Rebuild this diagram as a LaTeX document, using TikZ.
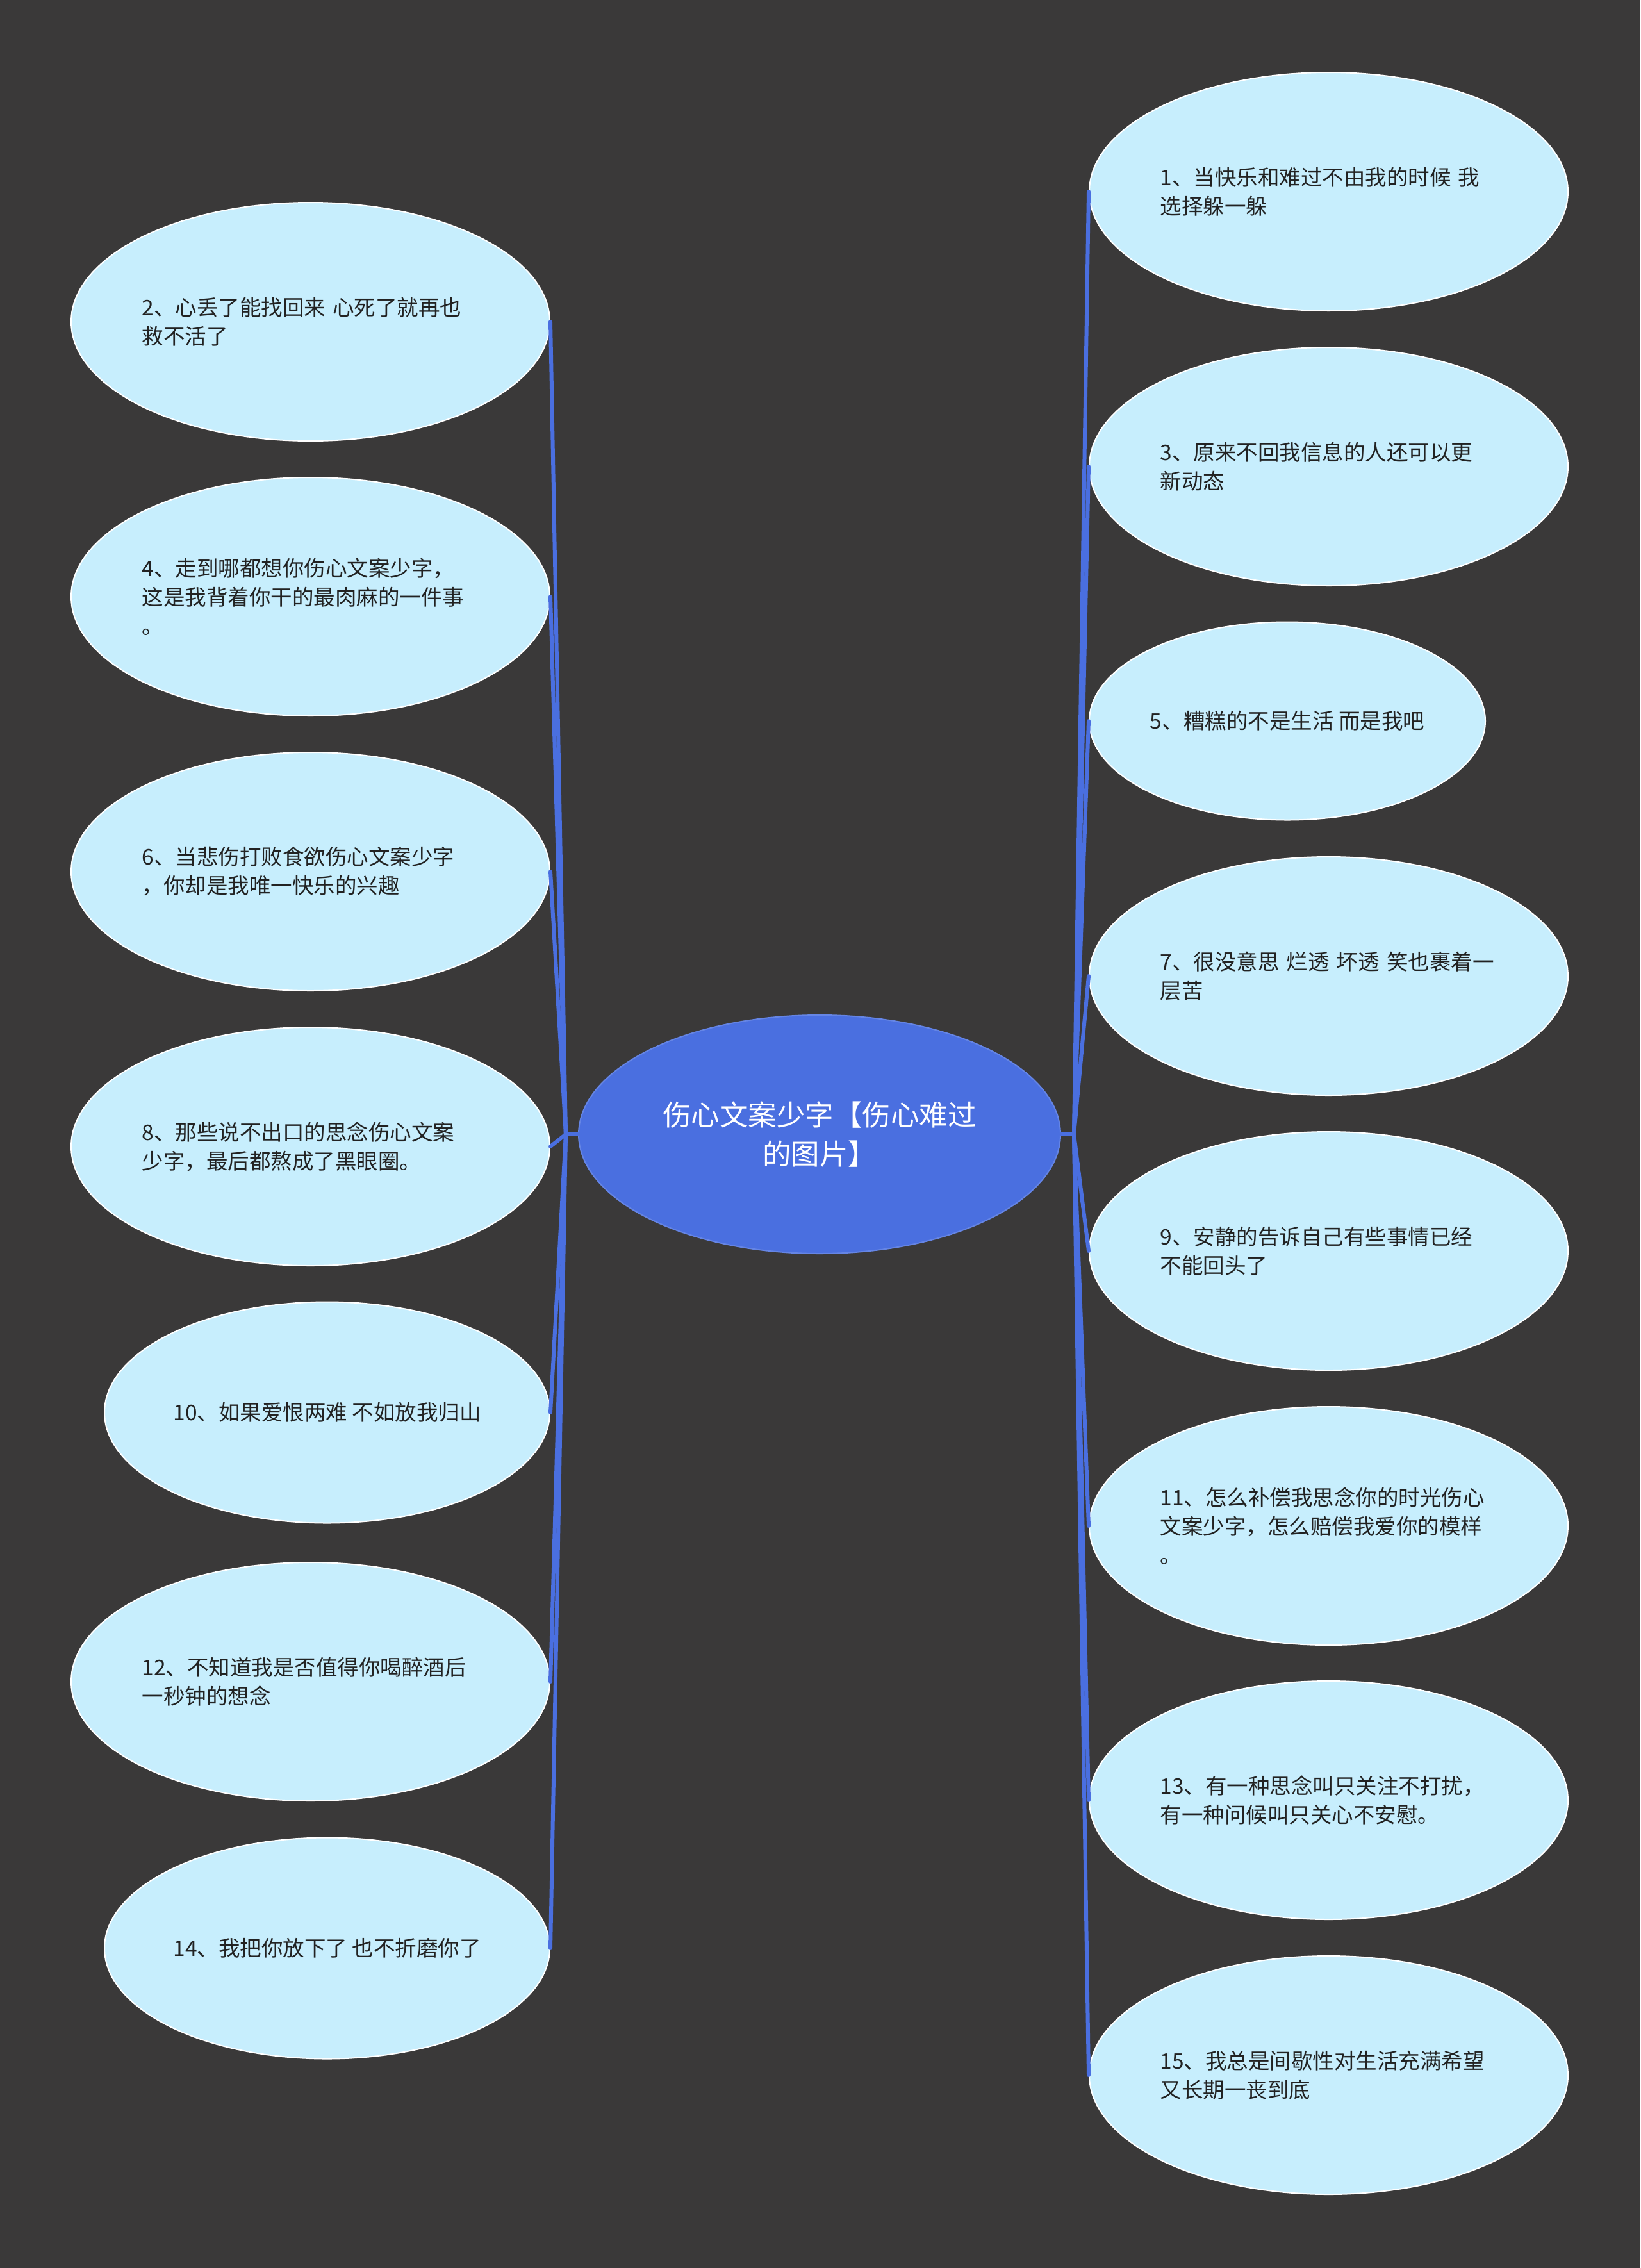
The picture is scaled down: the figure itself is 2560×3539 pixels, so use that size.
\documentclass[tikz,border=0pt]{standalone}
\usepackage{fontspec}
\setmainfont{Noto Sans CJK SC}
\usetikzlibrary{shapes.geometric}
\definecolor{bgc}{HTML}{3A3939}
\definecolor{leaffill}{HTML}{C7EEFD}
\definecolor{rootfill}{HTML}{4A6FE0}
\definecolor{linec}{HTML}{4A6FE0}
\definecolor{txtc}{HTML}{222222}
\begin{document}
\begin{tikzpicture}[x=1pt,y=-1pt,
  leaf/.style={ellipse, fill=leaffill, draw=white, line width=2pt, inner sep=0pt,
    minimum width=747pt, minimum height=372pt, text=txtc,
    font=\fontsize{33.5}{45}\selectfont},
  multi/.style={text width=526pt, align=left},
  single/.style={align=center},
  rootnode/.style={ellipse, fill=rootfill, draw=rootfill!85!white, line width=2pt, inner sep=0pt,
    minimum width=752pt, minimum height=372pt, text=white, align=center,
    font=\fontsize{44.5}{61}\selectfont},
  conn/.style={draw=linec, line width=6pt, line cap=round}]
\fill[bgc] (0,0) rectangle (2560,3539);
\useasboundingbox (0,0) rectangle (2560,3539);

\node[rootnode] (root) at (1279,1770) {伤心文案少字【伤心难过\\的图片】};

% right side
\node[leaf,multi] (n1) at (2073.5,299) {1、当快乐和难过不由我的时候~我\\选择躲一躲};
\node[leaf,multi] (n3) at (2073.5,728) {3、原来不回我信息的人还可以更\\新动态};
\node[leaf,single,minimum width=618pt,minimum height=309pt] (n5) at (2009,1125) {5、糟糕的不是生活~而是我吧};
\node[leaf,multi] (n7) at (2073.5,1523) {7、很没意思~烂透~坏透~笑也裹着一\\层苦};
\node[leaf,multi] (n9) at (2073.5,1952) {9、安静的告诉自己有些事情已经\\不能回头了};
\node[leaf,multi] (n11) at (2073.5,2381) {11、怎么补偿我思念你的时光伤心\\文案少字，怎么赔偿我爱你的模样\\。};
\node[leaf,multi] (n13) at (2073.5,2809) {13、有一种思念叫只关注不打扰，\\有一种问候叫只关心不安慰。};
\node[leaf,multi] (n15) at (2073.5,3238) {15、我总是间歇性对生活充满希望\\又长期一丧到底};

% left side
\node[leaf,multi] (n2) at (484.5,502) {2、心丢了能找回来~心死了就再也\\救不活了};
\node[leaf,multi] (n4) at (484.5,931) {4、走到哪都想你伤心文案少字，\\这是我背着你干的最肉麻的一件事\\。};
\node[leaf,multi] (n6) at (484.5,1360) {6、当悲伤打败食欲伤心文案少字\\，你却是我唯一快乐的兴趣};
\node[leaf,multi] (n8) at (484.5,1789) {8、那些说不出口的思念伤心文案\\少字，最后都熬成了黑眼圈。};
\node[leaf,single,minimum width=695pt,minimum height=345pt] (n10) at (510.5,2204) {10、如果爱恨两难~不如放我归山};
\node[leaf,multi] (n12) at (484.5,2624) {12、不知道我是否值得你喝醉酒后\\一秒钟的想念};
\node[leaf,single,minimum width=695pt,minimum height=345pt] (n14) at (510.5,3040) {14、我把你放下了~也不折磨你了};

\coordinate (lj) at (883,1770);
\coordinate (rj) at (1676,1770);

\draw[conn] (root.west) -- (lj);
\draw[conn] (root.east) -- (rj);
\foreach \n in {n2,n4,n6,n8,n10,n12,n14} \draw[conn] (lj) -- (\n.east);
\foreach \n in {n1,n3,n5,n7,n9,n11,n13,n15} \draw[conn] (rj) -- (\n.west);
\end{tikzpicture}
\end{document}
